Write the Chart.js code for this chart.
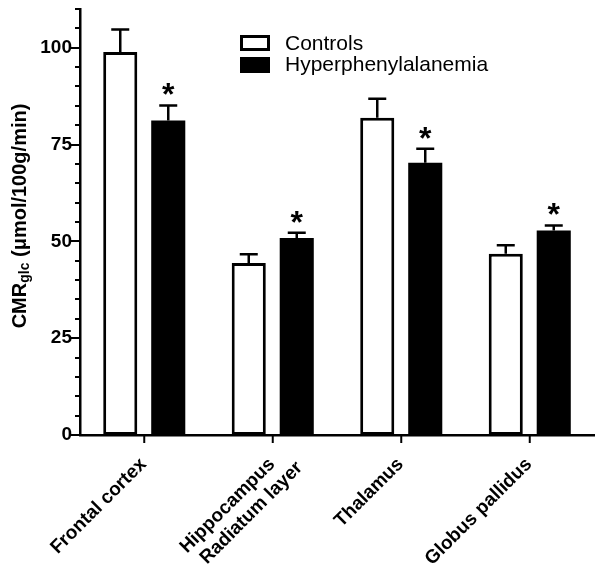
<!DOCTYPE html>
<html>
<head>
<meta charset="utf-8">
<script src="https://cdn.jsdelivr.net/npm/chart.js@4"></script>
<style>
  html, body { margin: 0; padding: 0; background: #fff; }
  #wrap { width: 602px; height: 572px; }
</style>
</head>
<body>
<div id="wrap"><canvas id="chart" width="602" height="572"></canvas></div>
<script>
// data
const regions = ['Frontal cortex', ['Hippocampus', 'Radiatum layer'], 'Thalamus', 'Globus pallidus'];
const controls = [98.9, 44.4, 81.9, 46.8];
const controlsErr = [5.8, 2.3, 4.9, 2.2];
const hpa = [81.2, 50.9, 70.3, 52.8];
const hpaErr = [3.9, 1.3, 3.6, 1.3];
const significant = [true, true, true, true];
const yTicks = [0, 25, 50, 75, 100];

const FONT = '"Liberation Sans", Arial, Helvetica, sans-serif';

// error bars (upward only) + asterisks
const errorBars = {
    id: 'errorBars',
    afterDatasetsDraw(chart) {
        const ctx = chart.ctx;
        const y = chart.scales.y;
        const errs = [controlsErr, hpaErr];
        ctx.save();
        ctx.strokeStyle = '#000';
        ctx.lineWidth = 2.5;
        chart.data.datasets.forEach((ds, di) => {
            const meta = chart.getDatasetMeta(di);
            meta.data.forEach((bar, i) => {
                const top = y.getPixelForValue(ds.data[i] + errs[di][i]);
                ctx.beginPath();
                ctx.moveTo(bar.x, bar.y);
                ctx.lineTo(bar.x, top);
                ctx.moveTo(bar.x - 9, top);
                ctx.lineTo(bar.x + 9, top);
                ctx.stroke();
                if (di === 1 && significant[i]) {
                    ctx.font = 'bold 32px ' + FONT;
                    ctx.textAlign = 'center';
                    ctx.textBaseline = 'alphabetic';
                    ctx.fillStyle = '#000';
                    const m = ctx.measureText('*');
                    const yc = top - 16;
                    ctx.fillText('*', bar.x, yc + (m.actualBoundingBoxAscent - m.actualBoundingBoxDescent) / 2);
                }
            });
        });
        ctx.restore();
    }
};

// axis tick marks, rotated x labels, y title, legend
const decorations = {
    id: 'decorations',
    afterDraw(chart) {
        const ctx = chart.ctx;
        const y = chart.scales.y, x = chart.scales.x;
        const area = chart.chartArea;
        ctx.save();
        ctx.strokeStyle = '#000';
        ctx.fillStyle = '#000';
        ctx.lineWidth = 2;
        // y ticks: major every 25, minor every 5
        y.ticks.forEach(t => {
            const py = Math.round(y.getPixelForValue(t.value));
            const len = t.value % 25 === 0 ? 9 : 5;
            ctx.beginPath();
            ctx.moveTo(area.left, py);
            ctx.lineTo(area.left - len, py);
            ctx.stroke();
        });
        // x ticks + labels at category centres
        ctx.font = 'bold 19px ' + FONT;
        ctx.textAlign = 'right';
        ctx.textBaseline = 'alphabetic';
        chart.data.labels.forEach((lab, i) => {
            const px = x.getPixelForTick(i);
            ctx.beginPath();
            ctx.moveTo(px, area.bottom);
            ctx.lineTo(px, area.bottom + 8);
            ctx.stroke();
            const lines = Array.isArray(lab) ? lab : [lab];
            ctx.save();
            ctx.translate(px + 3, area.bottom + 30);
            ctx.rotate(-Math.PI / 4);
            lines.forEach((ln, j) => ctx.fillText(ln, j * 17, j * 22));
            ctx.restore();
        });

        // y axis title with subscript
        ctx.translate(20, 216);
        ctx.rotate(-Math.PI / 2);
        ctx.textBaseline = 'middle';
        const big = 'bold 20px ' + FONT, small = 'bold 14px ' + FONT;
        const parts = [['CMR', big, 0], ['glc', small, 5], [' (\u03bcmol/100g/min)', big, 0]];
        let total = 0;
        parts.forEach(p => { ctx.font = p[1]; total += ctx.measureText(p[0]).width; });
        let cx = -total / 2;
        ctx.textAlign = 'left';
        parts.forEach(p => {
            ctx.font = p[1];
            ctx.fillText(p[0], cx, p[2]);
            cx += ctx.measureText(p[0]).width;
        });
        ctx.setTransform(1, 0, 0, 1, 0, 0);

        // legend
        ctx.lineWidth = 3;
        ctx.fillStyle = '#fff';
        ctx.fillRect(241.5, 36.5, 27, 13);
        ctx.strokeRect(241.5, 36.5, 27, 13);
        ctx.fillStyle = '#000';
        ctx.fillRect(240, 57, 30, 16);
        ctx.font = '21px ' + FONT;
        ctx.textAlign = 'left';
        ctx.textBaseline = 'middle';
        ctx.fillText('Controls', 285, 44);
        ctx.fillText('Hyperphenylalanemia', 285, 65);
        ctx.restore();
    }
};

const ctx = document.getElementById('chart').getContext('2d');

new Chart(ctx, {
    type: 'bar',
    data: {
        labels: regions,
        datasets: [
            {
                label: 'Controls',
                data: controls,
                backgroundColor: '#fff',
                borderColor: '#000',
                borderWidth: 3,
                borderSkipped: false
            },
            {
                label: 'Hyperphenylalanemia',
                data: hpa,
                backgroundColor: '#000',
                borderColor: '#000',
                borderWidth: 0
            }
        ]
    },
    options: {
        responsive: false,
        animation: false,
        categoryPercentage: 0.747,
        barPercentage: 0.71,
        layout: { padding: { top: 9, right: 8, left: 0, bottom: 0 } },
        plugins: {
            legend: { display: false },
            tooltip: { enabled: false }
        },
        scales: {
            x: {
                grid: { display: false, drawTicks: false },
                border: { display: true, color: '#000', width: 2.5 },
                ticks: { display: false },
                afterFit(scale) {
                    scale.height = 137;
                    scale.paddingLeft = 0;
                    scale.paddingRight = 0;
                }
            },
            y: {
                min: 0,
                max: 110,
                grid: { display: false, drawTicks: false },
                border: { display: true, color: '#000', width: 2.5 },
                ticks: {
                    stepSize: 5,
                    autoSkip: false,
                    color: '#000',
                    padding: 8,
                    font: { family: FONT, size: 19, weight: 'bold' },
                    callback: v => yTicks.includes(v) ? v : ''
                },
                afterFit(scale) {
                    scale.width = 80;
                    scale.paddingTop = 0;
                    scale.paddingBottom = 0;
                }
            }
        }
    },
    plugins: [errorBars, decorations]
});
</script>
</body>
</html>
